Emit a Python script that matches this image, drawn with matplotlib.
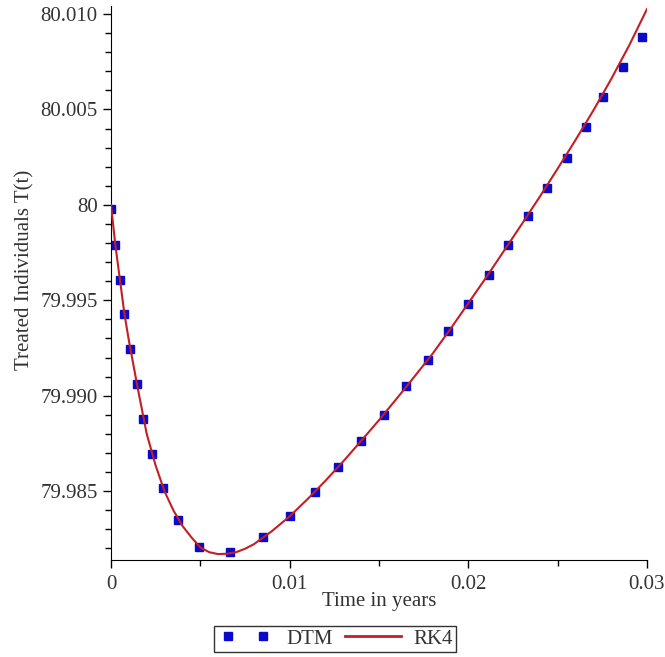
import matplotlib
matplotlib.use("Agg")
import matplotlib.pyplot as plt
from matplotlib.lines import Line2D
from matplotlib.legend_handler import HandlerLine2D
from matplotlib.ticker import MultipleLocator

plt.rcParams['font.family'] = ['Liberation Serif', 'DejaVu Serif']

# DTM points
dtm_t = [0, 0.000224, 0.000504, 0.000756, 0.00109, 0.00146, 0.00179, 0.00229,
         0.00291, 0.00375, 0.00493, 0.00666, 0.00851, 0.01002, 0.01142, 0.01271,
         0.01399, 0.01528, 0.01651, 0.01774, 0.01886, 0.01998, 0.02116, 0.02222,
         0.02334, 0.02440, 0.02552, 0.02659, 0.02754, 0.02866, 0.02972]
dtm_T = [79.99980, 79.99792, 79.99609, 79.99426, 79.99243, 79.99060, 79.98877,
         79.98694, 79.98516, 79.98348, 79.98207, 79.98181, 79.98259, 79.98369,
         79.98495, 79.98626, 79.98762, 79.98898, 79.99049, 79.99185, 79.99337,
         79.99483, 79.99635, 79.99792, 79.99944, 80.00090, 80.00247, 80.00409,
         80.00566, 80.00723, 80.00880]

# RK4 solution curve
rk4_t = [0, 0.00025, 0.0005, 0.00075, 0.001, 0.0015, 0.002, 0.0025, 0.003, 0.0035,
         0.004, 0.0045, 0.005, 0.0055, 0.006, 0.0065, 0.007, 0.0075, 0.008, 0.009,
         0.010, 0.011, 0.012, 0.013, 0.014, 0.015, 0.016, 0.017, 0.018, 0.019,
         0.020, 0.021, 0.022, 0.023, 0.024, 0.025, 0.026, 0.027, 0.028, 0.029, 0.030]
rk4_T = [80.00000, 79.99785, 79.99609, 79.99430, 79.99290, 79.99038, 79.98800,
         79.98634, 79.98498, 79.98398, 79.98318, 79.98258, 79.98205, 79.98180,
         79.98170, 79.98172, 79.98180, 79.98198, 79.98222, 79.98290, 79.98368,
         79.98458, 79.98554, 79.98656, 79.98763, 79.98872, 79.98986, 79.99102,
         79.99220, 79.99350, 79.99485, 79.99620, 79.99760, 79.99900, 80.00043,
         80.00190, 80.00340, 80.00495, 80.00660, 80.00835, 80.01026]

xticks = [0, 0.01, 0.02, 0.03]
xtick_labels = ['0', '0.01', '0.02', '0.03']
yticks = [79.985, 79.990, 79.995, 80.0, 80.005, 80.010]
ytick_labels = ['79.985', '79.990', '79.995', '80', '80.005', '80.010']

blue = '#0a0acc'
red = '#c41e24'
grey = '#333333'
fs = 15

fig = plt.figure(figsize=(6.65, 6.57), dpi=100)
ax = fig.add_axes([0.1669, 0.1476, 0.806, 0.8426])

ax.plot(dtm_t, dtm_T, linestyle='none', marker='s', markersize=6,
        color=blue, zorder=2)
ax.plot(rk4_t, rk4_T, color=red, linewidth=1.5, zorder=3)

ax.set_xlim(0, 0.03)
ax.set_ylim(79.98139, 80.0104)

ax.spines['top'].set_visible(False)
ax.spines['right'].set_visible(False)

ax.set_xticks(xticks)
ax.set_xticklabels(xtick_labels)
ax.set_yticks(yticks)
ax.set_yticklabels(ytick_labels)
ax.xaxis.set_minor_locator(MultipleLocator(0.005))
ax.yaxis.set_minor_locator(MultipleLocator(0.001))
ax.tick_params(which='major', length=6, width=1, labelsize=fs, colors='black',
               labelcolor=grey)
ax.tick_params(axis='x', which='major', pad=4.5)
ax.tick_params(which='minor', length=4, width=1)

ax.set_xlabel('Time in years', fontsize=fs, color=grey)
ax.set_ylabel('Treated Individuals T(t)', fontsize=fs, color=grey)
ax.xaxis.set_label_coords(0.5, -0.058)
ax.yaxis.set_label_coords(-0.143, 0.524)

# legend below the plot, two blue squares for DTM
dtm_handle = Line2D([], [], linestyle='none', marker='s', markersize=6, color=blue)
rk4_handle = Line2D([], [], color=red, linewidth=2)
leg = fig.legend([dtm_handle, rk4_handle], ['DTM', 'RK4'], loc='center', ncol=2,
                 bbox_to_anchor=(0.504, 0.0274), fancybox=False,
                 edgecolor='black', fontsize=fs, handlelength=2.7,
                 borderpad=0.15, columnspacing=0.6, handletextpad=0.6,
                 handler_map={dtm_handle: HandlerLine2D(numpoints=2, marker_pad=0.5)})
leg.get_frame().set_linewidth(1.0)
for t in leg.get_texts():
    t.set_color(grey)

fig.savefig('out.png', dpi=100)
